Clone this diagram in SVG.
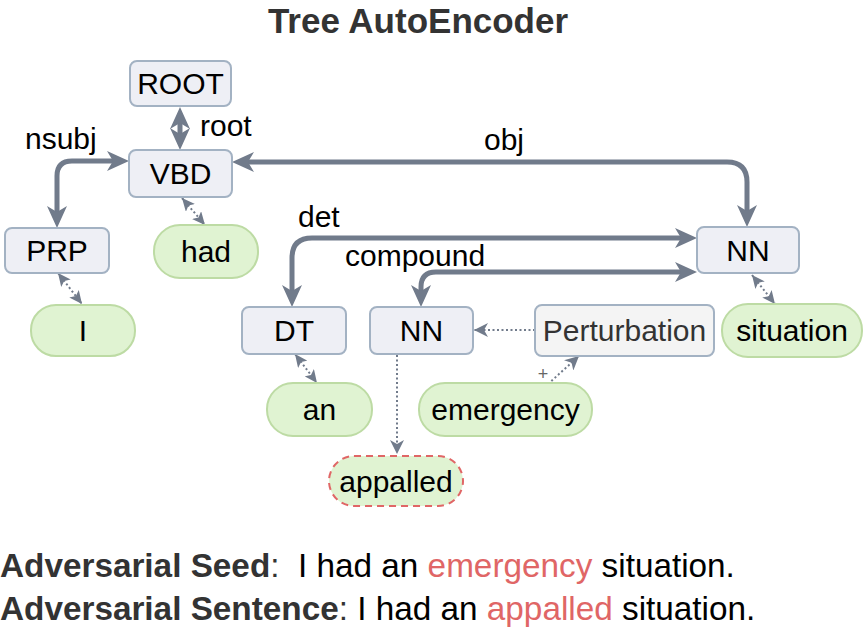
<svg xmlns="http://www.w3.org/2000/svg" width="864" height="630" viewBox="0 0 864 630">
<style>
text{font-family:"Liberation Sans",Arial,sans-serif;}
.lbl{font-size:30px;fill:#000;text-anchor:middle;}
.elbl{font-size:30px;fill:#000;}
.node{fill:#eeeff5;stroke:#a3b2c3;stroke-width:2;}
.pert{fill:#f4f4f4;stroke:#a3b2c3;stroke-width:2;}
.word{fill:#e0f3d2;stroke:#bddba4;stroke-width:2;}
.adv{fill:#e0f3d2;stroke:#e06666;stroke-width:2;stroke-dasharray:7,5;}
.thick{fill:none;stroke:#717b8b;stroke-width:5;marker-start:url(#big);marker-end:url(#big);}
.tiny{fill:none;stroke:#717b8b;stroke-width:2;stroke-dasharray:2,2.5;marker-start:url(#small);marker-end:url(#small);}
.dot{fill:none;stroke:#717b8b;stroke-width:2;stroke-dasharray:2,2.5;marker-end:url(#mid);}
</style>
<defs>
<marker id="big" markerUnits="userSpaceOnUse" markerWidth="22" markerHeight="20" refX="6" refY="10" orient="auto-start-reverse" viewBox="0 0 22 20">
<path d="M0,0 L22,10 L0,20 L6,10 Z" fill="#717b8b"/>
</marker>
<marker id="small" markerUnits="userSpaceOnUse" markerWidth="13" markerHeight="12" refX="13" refY="6" orient="auto-start-reverse" viewBox="0 0 13 12">
<path d="M0,0 L13,6 L0,12 L3,6 Z" fill="#717b8b"/>
</marker>
<marker id="mid" markerUnits="userSpaceOnUse" markerWidth="14" markerHeight="14" refX="14" refY="7" orient="auto" viewBox="0 0 14 14">
<path d="M0,0 L14,7 L0,14 L4,7 Z" fill="#717b8b"/>
</marker>
</defs>
<rect width="864" height="630" fill="#fff"/>
<text x="418" y="33" text-anchor="middle" style="font-size:35px;font-weight:bold;fill:#333">Tree AutoEncoder</text>

<g id="connectors">
<path class="thick" d="M180,123 V134"/>
<path class="thick" d="M113,161 H72 Q57,161 57,176 V212"/>
<path class="thick" d="M248,162 H727 Q747,162 747,182 V211"/>
<path class="thick" d="M681,238 H312 Q292,238 292,258 V291"/>
<path class="thick" d="M681,272 H436 Q421,272 421,287 V291"/>
<path class="tiny" d="M182,198 L205,225"/>
<path class="tiny" d="M58,273 L82,304"/>
<path class="tiny" d="M752,275 L775,304"/>
<path class="tiny" d="M295,354 L317,383"/>
<path class="dot" d="M535,330 L474,330"/>
<path class="dot" d="M548,384 L579,356"/>
<path class="dot" d="M397,355 L397,454"/>
<text x="200" y="136" class="elbl">root</text>
<text x="25" y="149" class="elbl">nsubj</text>
<text x="484" y="150" class="elbl">obj</text>
<text x="298" y="227" class="elbl">det</text>
<text x="345" y="266" class="elbl">compound</text>
<text x="543" y="380" text-anchor="middle" style="font-size:18px;fill:#666">+</text>
</g>

<g id="root"><rect class="node" x="130" y="61" width="101" height="45" rx="7"/><text class="lbl" x="180.5" y="94">ROOT</text></g>
<g id="vbd"><rect class="node" x="129" y="150" width="103" height="47" rx="7"/><text class="lbl" x="180.5" y="184">VBD</text></g>
<g id="prp"><rect class="node" x="5" y="228" width="104" height="45" rx="7"/><text class="lbl" x="57" y="261">PRP</text></g>
<g id="had"><rect class="word" x="154" y="225" width="104" height="53" rx="26"/><text class="lbl" x="206" y="262">had</text></g>
<g id="i"><rect class="word" x="31" y="305" width="104" height="51" rx="25"/><text class="lbl" x="83" y="341">I</text></g>
<g id="nn2"><rect class="node" x="697" y="227" width="102" height="46" rx="7"/><text class="lbl" x="748" y="261">NN</text></g>
<g id="dt"><rect class="node" x="242" y="307" width="104" height="47" rx="7"/><text class="lbl" x="294" y="341">DT</text></g>
<g id="nn1"><rect class="node" x="370" y="307" width="103" height="47" rx="7"/><text class="lbl" x="421.5" y="341">NN</text></g>
<g id="perturbation"><rect class="pert" x="535" y="305" width="179" height="51" rx="7"/><text class="lbl" x="624.5" y="341" style="fill:#333">Perturbation</text></g>
<g id="situation"><rect class="word" x="722" y="304" width="140" height="53" rx="26"/><text class="lbl" x="792" y="341">situation</text></g>
<g id="an"><rect class="word" x="267" y="383" width="105" height="53" rx="26"/><text class="lbl" x="319.5" y="420">an</text></g>
<g id="emergency"><rect class="word" x="419" y="383" width="173" height="53" rx="26"/><text class="lbl" x="505.5" y="420">emergency</text></g>
<g id="appalled"><rect class="adv" x="329" y="456" width="134" height="50" rx="25"/><text class="lbl" x="396" y="492">appalled</text></g>

<text x="0" y="577" xml:space="preserve" style="font-size:33.3px;fill:#000"><tspan style="font-weight:bold;fill:#333">Adversarial Seed</tspan><tspan style="fill:#333">:</tspan>  I had an <tspan style="fill:#e06666">emergency</tspan> situation.</text>
<text x="0" y="620" xml:space="preserve" style="font-size:33.3px;fill:#000"><tspan style="font-weight:bold;fill:#333">Adversarial Sentence</tspan><tspan style="fill:#333">:</tspan> I had an <tspan style="fill:#e06666">appalled</tspan> situation.</text>
</svg>
